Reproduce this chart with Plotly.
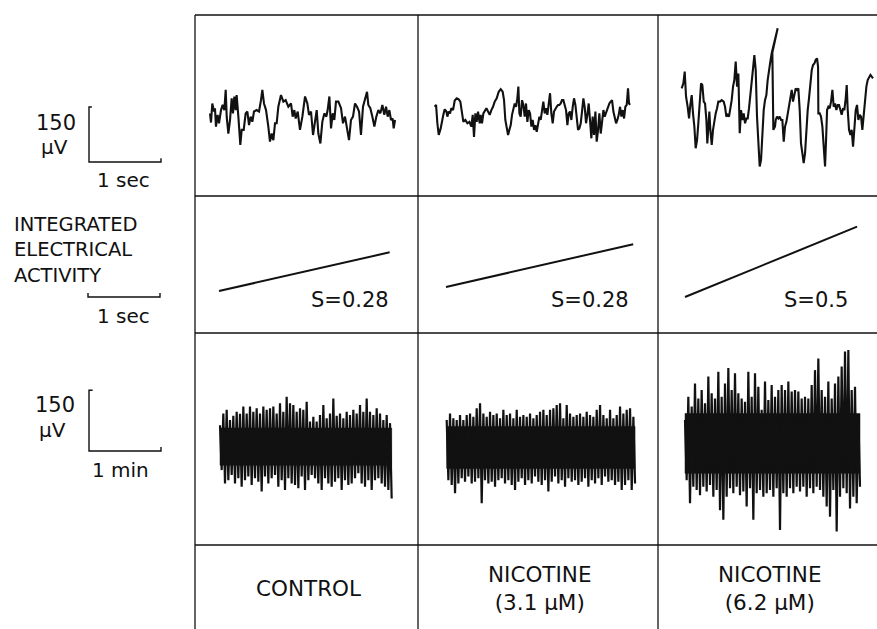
import plotly.graph_objects as go

# ======================= DATA =======================
conditions = ["CONTROL", "NICOTINE<br>(3.1 μM)", "NICOTINE<br>(6.2 μM)"]

# Row 1: fast traces, time in ms, potential in µV
ctrl_t = [0,14,32,56,69,83,106,125,153,176,199,218,232,255,278,301,319,338,357,370,
          394,421,440,468,495,519,542,565,588,611,648,681,708,727,750,778,810,833,857,880,
          903,926,949,986,1019,1051,1088,1125,1148,1171,1190,1218,1250,1283,1320,1352,1375,1403,1431,1458,
          1482,1505,1533,1560,1588,1616,1634,1658,1681,1704,1727,1750,1783,1820,1847,1875,1898,1931,1958,1986,
          2014,2042,2070,2097,2125,2153,2181,2199,2227,2255,2283,2310,2338,2366,2394,2421,2445,2468,2491,2514,
          2537,2551,2570]
ctrl_v = [-1,-26,26,4,13,-37,-5,-28,8,22,8,63,-10,-56,-19,40,-1,45,8,49,
          -10,-87,-46,-46,-1,4,-33,-10,-24,4,8,4,35,63,26,8,-37,-78,-56,-74,
          -28,-28,17,49,31,35,17,26,-10,8,-15,4,-46,-10,45,26,-5,4,-60,-24,
          8,-56,-83,-24,-1,-10,8,45,-42,-1,-19,31,31,13,-28,-10,-33,-74,-19,-10,
          26,17,4,-60,17,35,58,22,13,-10,-37,-10,8,-1,22,-5,17,-10,8,-19,
          -15,-42,-19]

nic31_t = [0,19,37,56,83,102,120,139,162,176,194,213,231,255,278,306,333,356,380,398,
           426,454,482,509,528,546,565,583,602,625,639,657,676,694,718,741,764,787,810,833,
           861,889,917,944,963,981,1000,1019,1037,1056,1074,1093,1111,1130,1148,1162,1176,1194,1213,1231,
           1250,1268,1287,1306,1324,1343,1361,1380,1398,1417,1435,1454,1472,1491,1509,1528,1546,1565,1583,1602,
           1620,1639,1657,1676,1694,1713,1731,1750,1768,1787,1806,1824,1843,1861,1880,1898,1917,1935,1954,1972,
           1991,2009,2028,2046,2065,2083,2102,2120,2139,2157,2176,2194,2213,2232,2250,2269,2287,2306,2324,2343,
           2361,2389,2408,2426,2445,2463,2482,2500,2519,2537,2556,2574,2593,2611,2630,2648,2667,2685,2699,2713]
nic31_v = [17,22,-28,-60,-42,-19,-5,10,4,-10,4,-1,13,8,34,40,37,31,4,-24,
           -19,-28,-24,-37,-5,-65,-1,-24,4,-28,-5,-28,-1,4,13,4,-5,8,17,31,
           40,58,65,58,35,-19,-46,-60,-46,-33,-5,13,26,17,40,72,-1,-10,35,22,
           -10,26,-24,8,-1,-37,-19,-46,-33,-51,-28,-10,-19,8,31,-1,13,-5,22,54,
           -1,-28,4,13,17,22,22,26,35,35,22,8,-33,-1,4,-19,17,40,22,-19,
           -46,-42,-28,4,40,17,-28,-5,26,-19,-69,-10,-60,4,-78,-46,-1,-56,-19,8,
           -10,8,17,26,31,35,4,-15,-28,-19,-5,17,-10,8,-15,17,22,67,26,22]

nic62_t = [0,23,42,60,83,102,120,139,157,176,194,213,231,250,269,287,306,324,343,356,
           370,384,398,417,435,454,472,491,509,532,556,583,602,620,639,657,676,694,713,731,
           750,769,787,806,824,843,861,880,898,917,935,954,972,991,1009,1028,1046,1065,1083,1102,
           1120,1139,1157,1176,1194,1213,1231,1250,1333,1259,1273,1296,1306,1324,1343,1361,1380,1398,1417,1435,
           1454,1472,1491,1509,1528,1546,1565,1583,1602,1620,1639,1657,1676,1694,1713,1731,1750,1768,1787,1806,
           1824,1843,1861,1880,1894,1898,1917,1935,1954,1972,1991,2005,2019,2037,2056,2074,2093,2111,2130,2148,
           2167,2185,2204,2222,2241,2259,2278,2292,2306,2324,2343,2361,2380,2398,2417,2435,2454,2472,2491,2509,
           2528,2547,2565,2583,2602,2621,2639,2658]
nic62_v = [67,81,113,45,17,-15,22,49,-1,-37,-96,-74,-28,45,81,76,31,26,-19,-83,
           -37,4,-46,-87,-46,-19,-1,13,31,31,35,31,17,-10,-5,-10,8,35,72,90,
           140,72,108,-55,8,-19,-1,-28,-15,-15,13,45,81,122,158,117,-10,-92,-146,-128,
           -46,8,35,49,90,122,140,163,231,165,-46,-37,-19,-10,-15,-10,-19,-19,-78,-37,
           -24,-1,22,40,63,31,49,67,63,67,8,-83,-110,-137,-110,-46,8,40,76,117,
           131,135,145,149,126,-1,-1,-10,-37,-92,-146,-74,8,17,13,31,63,17,26,8,
           22,22,8,-5,13,8,40,76,8,-46,-60,-46,-92,-37,8,22,-19,-5,-10,-46,
           -1,35,72,90,99,104,99,95]

# Row 2: integrated electrical activity (duration in s, end value in arbitrary units)
integ_duration = [2.37, 2.60, 2.39]
integ_end = [0.66, 0.73, 1.20]
slope_labels = ["S=0.28", "S=0.28", "S=0.5"]

# Row 3: slow recordings, excursion envelope (µV) sampled every band_dt minutes
band_dt = 0.0463
ctrl_up = [49,78,87,62,72,82,77,95,78,95,82,91,78,95,87,91,95,78,103,82,
           119,103,99,82,91,87,107,58,70,58,74,99,66,78,115,72,78,66,82,74,
           87,78,99,82,115,82,74,91,78,62,74,54]
ctrl_lo = [-62,-95,-87,-74,-95,-82,-103,-87,-78,-99,-82,-91,-115,-78,-95,-82,-74,-103,-87,-111,
           -82,-95,-99,-107,-78,-111,-87,-74,-82,-95,-111,-82,-95,-103,-91,-82,-111,-87,-99,-95,
           -82,-70,-95,-103,-87,-111,-87,-82,-95,-103,-111,-132]
nic31_up = [62,78,66,62,74,62,74,78,70,91,103,78,70,82,74,78,66,87,74,78,
            66,87,70,74,70,78,66,74,82,87,74,87,91,99,103,66,99,78,70,74,
            78,70,82,74,70,87,99,74,66,87,66,74,95,78,87,91,70]
nic31_lo = [-87,-99,-119,-95,-82,-91,-78,-95,-91,-82,-144,-87,-95,-91,-103,-87,-82,-95,-87,-99,
            -111,-91,-82,-99,-87,-95,-78,-91,-99,-87,-115,-91,-78,-95,-87,-103,-82,-91,-87,-99,
            -91,-82,-103,-87,-95,-82,-99,-78,-91,-87,-99,-91,-111,-99,-87,-111,-95]
nic62_up = [62,119,95,152,115,136,103,169,128,115,181,119,152,190,136,177,128,115,107,181,
            119,177,144,87,157,111,148,119,136,148,136,157,132,136,132,115,119,115,148,185,
            214,136,119,157,115,152,169,194,231,235,136,144,70]
nic62_lo = [-87,-144,-103,-111,-124,-103,-115,-99,-128,-111,-161,-185,-128,-107,-119,-103,-124,-115,-152,-107,
            -185,-119,-111,-128,-119,-111,-128,-107,-210,-119,-128,-107,-119,-103,-115,-103,-128,-107,-119,-103,
            -111,-128,-152,-177,-111,-214,-128,-107,-119,-157,-128,-144,-103]
# solid inner part of each slow recording (top, bottom) in µV
band_core_top = [42, 46, 78]
band_core_bottom = [-50, -58, -70]

# Scale bar values
bar_uv = 150      # µV
bar_sec = 1.0     # s
bar_min = 1.0     # min

# ======================= LAYOUT / GEOMETRY =======================
W, H = 877, 629
col_x = [195, 418, 658, 877]
row_y = [15, 196, 333, 545, 629]
INK = "#111111"
FONT = "DejaVu Sans"

# scales (pixels per unit)
R1_KX = 72 / 1000.0        # px per ms
R1_KY = 55.0 / 150.0       # px per µV
R2_KX = 72.0               # px per s
R2_KY = 58.6               # px per unit
R3_KX = 72.0               # px per min
R3_KY = 60.7 / 150.0       # px per µV

fig = go.Figure()
layout_axes = {}
n_axes = [0]


def make_axes(x0, x1, y0, y1, ox, oy, kx, ky):
    n_axes[0] += 1
    n = n_axes[0]
    sx = "" if n == 1 else str(n)
    layout_axes["xaxis" + sx] = dict(domain=[x0 / W, x1 / W],
                                      range=[(x0 - ox) / kx, (x1 - ox) / kx],
                                      visible=False, fixedrange=True, anchor="y" + sx)
    layout_axes["yaxis" + sx] = dict(domain=[1 - y1 / H, 1 - y0 / H],
                                      range=[(oy - y1) / ky, (oy - y0) / ky],
                                      visible=False, fixedrange=True, anchor="x" + sx)
    return "x" + sx, "y" + sx


def line(xa, ya, xs, ys, width=1.6, fill=None):
    fig.add_trace(go.Scatter(x=xs, y=ys, xaxis=xa, yaxis=ya, mode="lines",
                             line=dict(color=INK, width=width), hoverinfo="skip",
                             fill=fill, fillcolor=INK if fill else None,
                             showlegend=False))


# ---- Row 1: fast traces
row1 = [(ctrl_t, ctrl_v, 15), (nic31_t, nic31_v, 16.7), (nic62_t, nic62_v, 23.7)]
for c, (tt, vv, off) in enumerate(row1):
    xa, ya = make_axes(col_x[c], col_x[c + 1], row_y[0], row_y[1],
                       col_x[c] + off, 113, R1_KX, R1_KY)
    line(xa, ya, tt, vv, 2.1)

# ---- Row 2: integrated activity
row2_start = [(24, 291), (28, 287), (27, 297)]
for c in range(3):
    ox, oy = row2_start[c]
    xa, ya = make_axes(col_x[c], col_x[c + 1], row_y[1], row_y[2],
                       col_x[c] + ox, oy, R2_KX, R2_KY)
    line(xa, ya, [0, integ_duration[c]], [0, integ_end[c]], 2.0)

# ---- Row 3: slow recordings drawn as dense pen excursions over a solid core
row3 = [(ctrl_up, ctrl_lo, 25), (nic31_up, nic31_lo, 28.7), (nic62_up, nic62_lo, 27)]
for c, (up, lo, off) in enumerate(row3):
    xa, ya = make_axes(col_x[c], col_x[c + 1], row_y[2], row_y[3],
                       col_x[c] + off, 445, R3_KX, R3_KY)
    t_end = (len(up) - 0.5) * band_dt
    line(xa, ya, [0, t_end, t_end, 0, 0],
         [band_core_top[c], band_core_top[c], band_core_bottom[c], band_core_bottom[c], band_core_top[c]],
         0.5, fill="toself")
    xs, ys = [], []
    for i in range(len(up)):
        xs += [i * band_dt, i * band_dt + band_dt / 2]
        ys += [up[i], lo[i]]
    line(xa, ya, xs, ys, 2.2)

# ---- Scale bars (left column), drawn with the same scales
xa, ya = make_axes(0, col_x[0], row_y[0], row_y[1], 89, 162, R1_KX, R1_KY)
line(xa, ya, [40, 0, 0, bar_sec * 1000, bar_sec * 1000], [bar_uv, bar_uv, 0, 0, 10], 1.4)
xa, ya = make_axes(0, col_x[0], row_y[1], row_y[2], 88, 297, R2_KX, R2_KY)
line(xa, ya, [0, 0, bar_sec, bar_sec], [0.07, 0, 0, 0.07], 1.4)
xa, ya = make_axes(0, col_x[0], row_y[2], row_y[3], 89, 451, R3_KX, R3_KY)
line(xa, ya, [0.05, 0, 0, bar_min, bar_min], [bar_uv, bar_uv, 0, 0, 10], 1.4)

# ---- grid lines
shapes = []
for xv in col_x[:3]:
    shapes.append(dict(type="line", xref="paper", yref="paper",
                       x0=xv / W, x1=xv / W, y0=1 - row_y[0] / H, y1=0,
                       line=dict(color=INK, width=1.3)))
for yv in row_y[:4]:
    shapes.append(dict(type="line", xref="paper", yref="paper",
                       x0=col_x[0] / W, x1=1, y0=1 - yv / H, y1=1 - yv / H,
                       line=dict(color=INK, width=1.3)))

# ---- text
ann = []


def text(s, x, y, size, xanchor="center", align="center"):
    ann.append(dict(text=s, x=x / W, y=1 - y / H, xref="paper", yref="paper",
                    xanchor=xanchor, yanchor="middle", align=align, showarrow=False,
                    font=dict(family=FONT, size=size, color=INK)))


text("150", 56, 123, 21)
text("μV", 54, 147, 20)
text("1 sec", 124, 180, 20)
text("INTEGRATED<br>ELECTRICAL<br>ACTIVITY", 12, 250, 19.5, xanchor="left", align="left")
text("1 sec", 124, 316, 20)
text("150", 55, 405, 21)
text("μV", 52, 430, 20)
text("1 min", 120, 470, 20)

centers = [(col_x[c] + col_x[c + 1]) / 2 for c in range(3)]
for c in range(3):
    text(slope_labels[c], col_x[c + 1] - 27, 300, 21, xanchor="right")
    text(conditions[c], centers[c] + 2, 588, 21.5)

fig.update_layout(width=W, height=H, margin=dict(l=0, r=0, t=0, b=0),
                  paper_bgcolor="white", plot_bgcolor="white",
                  shapes=shapes, annotations=ann, showlegend=False, **layout_axes)

fig.write_html("out.html", config={"displayModeBar": False},
               post_script="document.body.style.margin='0';document.body.style.overflow='hidden';")
